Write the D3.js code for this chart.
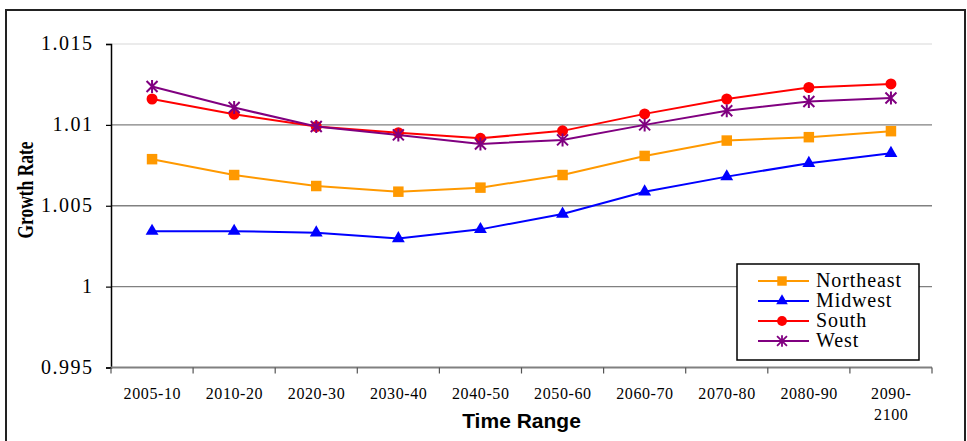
<!DOCTYPE html>
<html>
<head>
<meta charset="utf-8">
<script src="https://cdn.jsdelivr.net/npm/d3@7"></script>
<style>
    body { margin: 0; background: #fff; overflow: hidden; }
    svg { display: block; }
</style>
</head>
<body>
<svg id="chart"></svg>
<script>
// Time ranges on the x-axis
const categories = ['2005-10', '2010-20', '2020-30', '2030-40', '2040-50',
    '2050-60', '2060-70', '2070-80', '2080-90', '2090-2100'];

// Growth rate per region
const northeast = [1.00788, 1.0069, 1.00622, 1.00587, 1.00612, 1.0069, 1.00808, 1.00903, 1.00924, 1.00961];
const midwest = [1.00343, 1.00343, 1.00333, 1.00298, 1.00354, 1.00449, 1.00587, 1.0068, 1.00763, 1.00825];
const south = [1.0116, 1.01066, 1.0099, 1.00952, 1.00917, 1.00963, 1.01068, 1.0116, 1.01231, 1.01253];
const west = [1.01237, 1.01107, 1.0099, 1.00938, 1.00882, 1.00907, 1.01, 1.01087, 1.01145, 1.01166];

const yTicks = [0.995, 1, 1.005, 1.01, 1.015];
const yTickLabels = ['0.995', '1', '1.005', '1.01', '1.015'];

const seriesNames = ['Northeast', 'Midwest', 'South', 'West'];

const SERIF = 'Liberation Serif, DejaVu Serif, serif';
const SANS = 'Liberation Sans, Arial, sans-serif';

const config = {
    width: 967,
    height: 441,
    margin: { top: 44, right: 35, bottom: 73.5, left: 111 }
};

const series = [
    { name: seriesNames[0], values: northeast, color: '#FF9900', marker: 'square' },
    { name: seriesNames[1], values: midwest, color: '#0000FF', marker: 'triangle' },
    { name: seriesNames[2], values: south, color: '#FF0000', marker: 'circle' },
    { name: seriesNames[3], values: west, color: '#800080', marker: 'star' }
];

const svg = d3.select('#chart')
    .attr('width', config.width)
    .attr('height', config.height);

const innerWidth = config.width - config.margin.left - config.margin.right;
const innerHeight = config.height - config.margin.top - config.margin.bottom;

// Outer frame; its bottom edge sits just below the window
svg.append('rect')
    .attr('x', 6)
    .attr('y', 10)
    .attr('width', 959)
    .attr('height', 432.5)
    .attr('fill', 'none')
    .attr('stroke', '#222')
    .attr('stroke-width', 2);

const chart = svg.append('g')
    .attr('transform', `translate(${config.margin.left},${config.margin.top})`);

const xScale = d3.scaleBand()
    .domain(categories)
    .range([0, innerWidth]);

const yScale = d3.scaleLinear()
    .domain([0.995, 1.015])
    .range([innerHeight, 0]);

const xMid = c => xScale(c) + xScale.bandwidth() / 2;

// Widen text a little, the way the original export spaces its glyphs
const spread = (sel, extra) => sel.each(function() {
    const n = this.textContent.length;
    this.setAttribute('textLength', this.getComputedTextLength() + extra * (n - 1));
});

// Horizontal gridlines
chart.append('g')
    .selectAll('line')
    .data(yTicks.slice(1))
    .join('line')
    .attr('x1', 0)
    .attr('x2', innerWidth)
    .attr('y1', d => yScale(d))
    .attr('y2', d => yScale(d))
    .attr('stroke', d => d === 1.015 ? '#e4e4e4' : '#808080')
    .attr('stroke-width', 1.3);

// Y axis
const yAxis = d3.axisLeft(yScale)
    .tickValues(yTicks)
    .tickSize(5)
    .tickPadding(14)
    .tickFormat((d, i) => yTickLabels[i]);

const yAxisG = chart.append('g')
    .call(yAxis)
    .attr('font-family', SERIF)
    .attr('font-size', 20);
yAxisG.select('.domain').attr('stroke', '#000').attr('stroke-width', 1.5);
yAxisG.selectAll('.tick line').attr('stroke', '#000').attr('stroke-width', 1.2);
yAxisG.selectAll('.tick text')
    .attr('fill', '#000')
    .attr('dy', '0.28em')
    .call(spread, 1.5);

// X axis: labels centred in bands, ticks on band edges
const xAxisG = chart.append('g')
    .attr('transform', `translate(0,${innerHeight})`)
    .attr('font-family', SERIF)
    .attr('font-size', 16);

xAxisG.append('line')
    .attr('x1', 0)
    .attr('x2', innerWidth)
    .attr('stroke', '#808080')
    .attr('stroke-width', 2);

xAxisG.selectAll('.edge-tick')
    .data(categories.map(c => xScale(c)).concat([innerWidth]))
    .join('line')
    .attr('class', 'edge-tick')
    .attr('x1', d => d)
    .attr('x2', d => d)
    .attr('y1', 0)
    .attr('y2', 6)
    .attr('stroke', '#555')
    .attr('stroke-width', 1.2);

const xLabelRows = categories.flatMap(c => {
    const parts = c === '2090-2100' ? ['2090-', '2100'] : [c];
    return parts.map((p, i) => ({ cat: c, text: p, row: i }));
});

xAxisG.selectAll('.x-label')
    .data(xLabelRows)
    .join('text')
    .attr('class', 'x-label')
    .attr('text-anchor', 'middle')
    .attr('x', d => xMid(d.cat))
    .attr('y', d => 31.5 + d.row * 21)
    .text(d => d.text)
    .call(spread, 0.6);

// Axis titles
chart.append('text')
    .attr('x', innerWidth / 2)
    .attr('y', innerHeight + 60.5)
    .attr('text-anchor', 'middle')
    .attr('font-family', SANS)
    .attr('font-weight', 'bold')
    .attr('font-size', 21)
    .text('Time Range');

svg.append('text')
    .attr('transform', 'translate(33,190) rotate(-90)')
    .attr('text-anchor', 'middle')
    .attr('textLength', 97)
    .attr('lengthAdjust', 'spacingAndGlyphs')
    .attr('font-family', SERIF)
    .attr('font-weight', 'bold')
    .attr('font-size', 24)
    .text('Growth Rate');

// Marker shapes
const markerPath = {
    square: d3.symbol().type(d3.symbolSquare).size(110)(),
    circle: d3.symbol().type(d3.symbolCircle).size(95)(),
    triangle: d3.symbol().type(d3.symbolTriangle).size(72)(),
    star: 'M0,-6.5V6.5M-5.5,-5.5L5.5,5.5M5.5,-5.5L-5.5,5.5'
};

const drawMarker = (g, s) => {
    const p = g.append('path')
        .attr('d', markerPath[s.marker]);
    if (s.marker === 'star') {
        p.attr('fill', 'none').attr('stroke', s.color).attr('stroke-width', 2);
    } else {
        p.attr('fill', s.color);
    }
    return p;
};

const line = d3.line()
    .x((d, i) => xMid(categories[i]))
    .y(d => yScale(d));

series.forEach(s => {
    const g = chart.append('g');
    g.append('path')
        .datum(s.values)
        .attr('fill', 'none')
        .attr('stroke', s.color)
        .attr('stroke-width', 2)
        .attr('d', line);

    s.values.forEach((v, i) => {
        const m = g.append('g')
            .attr('transform', `translate(${xMid(categories[i])},${yScale(v)})`);
        drawMarker(m, s);
    });
});

// Legend
const legend = svg.append('g')
    .attr('transform', 'translate(737,264)')
    .attr('font-family', SERIF)
    .attr('font-size', 20);

legend.append('rect')
    .attr('width', 182)
    .attr('height', 96)
    .attr('fill', '#fff')
    .attr('stroke', '#000')
    .attr('stroke-width', 1.5);

series.forEach((s, i) => {
    const row = legend.append('g')
        .attr('transform', `translate(0,${17 + i * 20})`);
    row.append('line')
        .attr('x1', 21)
        .attr('x2', 72)
        .attr('stroke', s.color)
        .attr('stroke-width', 2);
    const m = row.append('g').attr('transform', 'translate(45,0)');
    drawMarker(m, s).attr('transform', 'scale(0.9)');
    row.append('text')
        .attr('x', 79)
        .attr('y', 6)
        .text(s.name)
        .call(spread, 0.9);
});
</script>
</body>
</html>
